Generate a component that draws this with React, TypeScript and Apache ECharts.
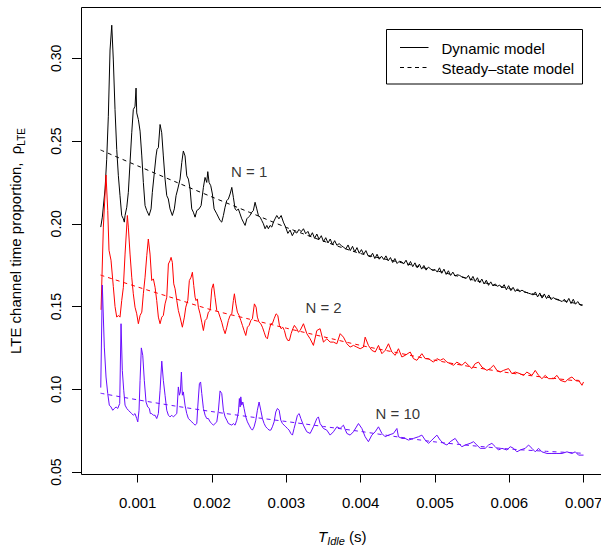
import React, { useEffect, useRef } from "react";
import * as echarts from "echarts";

const FONT = "'Liberation Sans', Arial, Helvetica, sans-serif";

// Axis ticks (seconds / proportion)
const X_TICKS = [0.001, 0.002, 0.003, 0.004, 0.005, 0.006, 0.007];
const Y_TICKS = [0.05, 0.1, 0.15, 0.2, 0.25, 0.3];
const X_MIN = 0.000244;
const X_MAX = 0.0072638;
const Y_MIN = 0.04849;
const Y_MAX = 0.3307;

// Steady-state model (T_idle in ms)
const STEADY_T_MS = [0.5, 1, 1.5, 2, 2.5, 3, 3.5, 4, 4.5, 5, 5.5, 6, 6.5, 7];
const STEADY_N1 = [0.2446, 0.235, 0.2255, 0.2162, 0.207, 0.1978, 0.1895, 0.182, 0.177, 0.1718, 0.1662, 0.1608, 0.1558, 0.1508];
const STEADY_N2 = [0.169, 0.1618, 0.1548, 0.1479, 0.1424, 0.1369, 0.1317, 0.1265, 0.122, 0.1175, 0.1135, 0.1099, 0.1071, 0.1046];
const STEADY_N10 = [0.0976, 0.0936, 0.0899, 0.0865, 0.0834, 0.0805, 0.0775, 0.0745, 0.0712, 0.0682, 0.0659, 0.0639, 0.0625, 0.0613];

// Dynamic model, N = 1 : [T_idle ms, proportion]
const DYN_N1_HEAD = [
  [0.503, 0.198], [0.524, 0.204], [0.561, 0.221], [0.583, 0.239], [0.605, 0.265], [0.628, 0.305], [0.651, 0.32],
  [0.672, 0.299], [0.695, 0.269], [0.718, 0.245], [0.74, 0.229], [0.762, 0.217], [0.785, 0.205], [0.807, 0.203],
  [0.82, 0.201], [0.83, 0.205], [0.853, 0.21], [0.874, 0.219], [0.897, 0.237], [0.92, 0.255], [0.941, 0.269],
  [0.964, 0.271], [0.978, 0.282], [0.987, 0.267], [1.009, 0.263], [1.032, 0.256], [1.055, 0.241], [1.076, 0.225],
  [1.099, 0.211], [1.122, 0.208], [1.153, 0.205], [1.18, 0.209], [1.197, 0.219], [1.224, 0.231], [1.247, 0.241],
  [1.26, 0.245], [1.278, 0.246], [1.301, 0.26], [1.323, 0.255], [1.345, 0.241], [1.368, 0.227], [1.391, 0.217],
  [1.412, 0.215], [1.435, 0.209], [1.466, 0.205], [1.493, 0.209], [1.516, 0.217], [1.539, 0.221], [1.57, 0.227],
  [1.593, 0.237], [1.614, 0.244], [1.637, 0.241], [1.66, 0.229], [1.682, 0.227], [1.705, 0.221], [1.727, 0.209],
  [1.749, 0.207], [1.772, 0.204], [1.795, 0.208], [1.826, 0.209], [1.853, 0.211], [1.884, 0.222], [1.906, 0.228],
  [1.929, 0.225], [1.943, 0.2315], [1.96, 0.225], [1.983, 0.223], [2.005, 0.218], [2.028, 0.209], [2.064, 0.206],
  [2.108, 0.202], [2.131, 0.201], [2.153, 0.205], [2.175, 0.21], [2.198, 0.214], [2.22, 0.215], [2.243, 0.218],
  [2.266, 0.222], [2.287, 0.216], [2.31, 0.209], [2.333, 0.208], [2.354, 0.209], [2.377, 0.206], [2.4, 0.203],
  [2.422, 0.201], [2.445, 0.199], [2.468, 0.203], [2.489, 0.204], [2.512, 0.205], [2.535, 0.207], [2.556, 0.208],
  [2.579, 0.213], [2.602, 0.209], [2.624, 0.205], [2.647, 0.204], [2.669, 0.202], [2.691, 0.2], [2.714, 0.197],
  [2.737, 0.199], [2.758, 0.197], [2.781, 0.199], [2.804, 0.198], [2.826, 0.201], [2.848, 0.203], [2.871, 0.205],
];
const DYN_N1_TAIL_START_MS = 2.9;
const DYN_N1_TAIL_STEP_MS = 0.03;
const DYN_N1_TAIL = [
  0.203, 0.205, 0.201, 0.198, 0.1942, 0.1962, 0.1928, 0.1954, 0.1944, 0.1966,
  0.1952, 0.197, 0.194, 0.1954, 0.1922, 0.1946, 0.1912, 0.1938, 0.1906, 0.1928,
  0.1892, 0.1916, 0.1884, 0.1908, 0.1874, 0.1898, 0.187, 0.188, 0.1868, 0.1858,
  0.1848, 0.1872, 0.1838, 0.1864, 0.183, 0.1856, 0.1822, 0.1844, 0.1816, 0.1838,
  0.1806, 0.18, 0.1822, 0.179, 0.1816, 0.1786, 0.1804, 0.1784, 0.1806, 0.1776,
  0.1796, 0.1766, 0.179, 0.176, 0.1774, 0.177, 0.1758, 0.178, 0.1748, 0.1772,
  0.1741, 0.1764, 0.1734, 0.1756, 0.1726, 0.1748, 0.172, 0.1738, 0.1728, 0.1718,
  0.1724, 0.1708, 0.1734, 0.1701, 0.1726, 0.1694, 0.1716, 0.1688, 0.1708, 0.1684,
  0.1692, 0.1688, 0.168, 0.1676, 0.167, 0.1688, 0.1658, 0.1682, 0.1651, 0.1674,
  0.1644, 0.1666, 0.1636, 0.1659, 0.1628, 0.1649, 0.1624, 0.1637, 0.1622, 0.163,
  0.1612, 0.1632, 0.1601, 0.1626, 0.1596, 0.1616, 0.1591, 0.1607, 0.159, 0.1599,
  0.159, 0.1585, 0.158, 0.1576, 0.157, 0.1588, 0.1558, 0.1582, 0.1551, 0.1576,
  0.1548, 0.157, 0.1542, 0.1554, 0.1546, 0.154, 0.1536, 0.153, 0.1544, 0.1524,
  0.1549, 0.1518, 0.1544, 0.1514, 0.153, 0.151, 0.1506,
];

// Dynamic model, N = 2
const DYN_N2 = [
  [0.507, 0.148], [0.538, 0.198], [0.574, 0.2295], [0.597, 0.208], [0.614, 0.184], [0.641, 0.178], [0.672, 0.162],
  [0.695, 0.15], [0.718, 0.1436], [0.74, 0.1446], [0.762, 0.1436], [0.785, 0.1536], [0.807, 0.1616], [0.83, 0.1817],
  [0.861, 0.205], [0.874, 0.198], [0.897, 0.1817], [0.92, 0.1677], [0.941, 0.1577], [0.964, 0.1496], [0.987, 0.1456],
  [1.009, 0.1396], [1.032, 0.1446], [1.055, 0.1466], [1.076, 0.1577], [1.099, 0.1677], [1.122, 0.1807], [1.143, 0.1908],
  [1.166, 0.1817], [1.189, 0.1657], [1.211, 0.1667], [1.234, 0.1616], [1.256, 0.1536], [1.278, 0.1436], [1.301, 0.1396],
  [1.324, 0.1436], [1.345, 0.1446], [1.368, 0.1516], [1.391, 0.1556], [1.413, 0.1757], [1.435, 0.1777], [1.449, 0.1797],
  [1.466, 0.1767], [1.485, 0.1637], [1.503, 0.1607], [1.526, 0.1536], [1.547, 0.1476], [1.57, 0.1436], [1.601, 0.1375],
  [1.628, 0.1436], [1.647, 0.1496], [1.674, 0.1536], [1.695, 0.1657], [1.718, 0.1677], [1.736, 0.1707], [1.754, 0.1627],
  [1.772, 0.1556], [1.785, 0.1536], [1.803, 0.1546], [1.816, 0.1496], [1.839, 0.1456], [1.862, 0.1405], [1.884, 0.1355],
  [1.907, 0.1416], [1.929, 0.1426], [1.951, 0.1466], [1.974, 0.1476], [1.997, 0.1607], [2.018, 0.1637], [2.041, 0.1556],
  [2.064, 0.1476], [2.086, 0.1466], [2.108, 0.1436], [2.131, 0.1405], [2.153, 0.1366], [2.176, 0.1336], [2.199, 0.1375],
  [2.22, 0.1416], [2.243, 0.1446], [2.266, 0.1456], [2.287, 0.1536], [2.301, 0.1577], [2.32, 0.1516], [2.341, 0.1466],
  [2.364, 0.1446], [2.387, 0.1416], [2.409, 0.1386], [2.431, 0.1355], [2.454, 0.1325], [2.476, 0.1375], [2.499, 0.1386],
  [2.522, 0.1416], [2.543, 0.1426], [2.57, 0.1516], [2.593, 0.1496], [2.61, 0.1436], [2.633, 0.1405], [2.656, 0.1396],
  [2.678, 0.1375], [2.701, 0.1345], [2.723, 0.1315], [2.745, 0.1305], [2.768, 0.1355], [2.791, 0.1396], [2.812, 0.1396],
  [2.835, 0.1426], [2.862, 0.1456], [2.885, 0.1446], [2.907, 0.1386], [2.929, 0.1366], [2.952, 0.1375], [2.974, 0.1355],
  [2.996, 0.1315], [3.019, 0.1295], [3.041, 0.1295], [3.064, 0.1336], [3.087, 0.1366], [3.108, 0.1386], [3.14, 0.1366],
  [3.162, 0.1345], [3.185, 0.1355], [3.23, 0.1396], [3.275, 0.1336], [3.32, 0.1305], [3.364, 0.1265], [3.41, 0.1355],
  [3.454, 0.1366], [3.499, 0.1285], [3.545, 0.1305], [3.589, 0.1285], [3.633, 0.1285], [3.679, 0.1275], [3.724, 0.1336],
  [3.768, 0.1315], [3.814, 0.1275], [3.858, 0.1255], [3.903, 0.1265], [3.948, 0.1255], [3.993, 0.1245], [4.037, 0.1255],
  [4.06, 0.1315], [4.104, 0.1265], [4.15, 0.1235], [4.195, 0.1225], [4.239, 0.1265], [4.285, 0.1215], [4.329, 0.1235],
  [4.374, 0.1275], [4.419, 0.1225], [4.464, 0.1205], [4.508, 0.1245], [4.554, 0.1195], [4.598, 0.1205], [4.666, 0.1225],
  [4.71, 0.1185], [4.756, 0.1175], [4.823, 0.1215], [4.868, 0.1185], [4.912, 0.1185], [4.979, 0.1164], [5.025, 0.1185],
  [5.07, 0.1175], [5.114, 0.1185], [5.16, 0.1164], [5.204, 0.1155], [5.249, 0.1145], [5.294, 0.1164], [5.362, 0.1145],
  [5.406, 0.1164], [5.45, 0.1145], [5.496, 0.1125], [5.541, 0.1155], [5.585, 0.1164], [5.631, 0.1134], [5.698, 0.1114],
  [5.742, 0.1125], [5.787, 0.1145], [5.833, 0.1114], [5.877, 0.1104], [5.921, 0.1114], [5.989, 0.1125], [6.035, 0.1094],
  [6.079, 0.1104], [6.146, 0.1094], [6.191, 0.1084], [6.236, 0.1104], [6.304, 0.1084], [6.348, 0.1114], [6.393, 0.1084],
  [6.438, 0.1064], [6.483, 0.1084], [6.527, 0.1064], [6.594, 0.1064], [6.64, 0.1084], [6.685, 0.1054], [6.752, 0.1044],
  [6.796, 0.1064], [6.842, 0.1074], [6.887, 0.1054], [6.931, 0.1054], [6.977, 0.1024], [6.998, 0.1044],
];

// Dynamic model, N = 10
const DYN_N10 = [
  [0.503, 0.101], [0.524, 0.163], [0.551, 0.1255], [0.574, 0.1074], [0.597, 0.0974], [0.618, 0.0904], [0.641, 0.0893],
  [0.664, 0.0873], [0.686, 0.0884], [0.709, 0.0893], [0.732, 0.0884], [0.758, 0.0914], [0.776, 0.1396], [0.793, 0.1114],
  [0.812, 0.0994], [0.83, 0.0904], [0.853, 0.0884], [0.874, 0.0873], [0.897, 0.0863], [0.92, 0.0853], [0.941, 0.0843],
  [0.964, 0.0853], [0.987, 0.0823], [1.001, 0.0803], [1.018, 0.0873], [1.032, 0.1054], [1.049, 0.125], [1.068, 0.1205],
  [1.089, 0.1054], [1.112, 0.0923], [1.135, 0.0893], [1.157, 0.0884], [1.17, 0.0853], [1.189, 0.0853], [1.211, 0.0843],
  [1.234, 0.0843], [1.256, 0.0823], [1.278, 0.0853], [1.301, 0.0994], [1.324, 0.117], [1.345, 0.1054], [1.368, 0.0964],
  [1.391, 0.0873], [1.413, 0.0843], [1.435, 0.0833], [1.458, 0.0843], [1.48, 0.0833], [1.503, 0.0843], [1.526, 0.0853],
  [1.547, 0.1014], [1.561, 0.0964], [1.574, 0.0984], [1.588, 0.1104], [1.601, 0.0964], [1.614, 0.0984], [1.637, 0.0904],
  [1.66, 0.0853], [1.682, 0.0823], [1.705, 0.0813], [1.728, 0.0803], [1.749, 0.0793], [1.772, 0.0783], [1.795, 0.0793],
  [1.808, 0.0893], [1.83, 0.1034], [1.846, 0.1044], [1.862, 0.0974], [1.884, 0.0884], [1.907, 0.0843], [1.929, 0.0823],
  [1.951, 0.0823], [1.974, 0.0803], [1.997, 0.0793], [2.018, 0.0783], [2.041, 0.0793], [2.064, 0.0803], [2.086, 0.0873],
  [2.108, 0.099], [2.131, 0.0974], [2.153, 0.0873], [2.176, 0.0833], [2.199, 0.0813], [2.22, 0.0793], [2.243, 0.0788],
  [2.266, 0.0783], [2.287, 0.0793], [2.31, 0.0783], [2.333, 0.0813], [2.355, 0.0863], [2.368, 0.0944], [2.378, 0.0893],
  [2.387, 0.0954], [2.4, 0.0904], [2.414, 0.0923], [2.431, 0.0884], [2.454, 0.0833], [2.476, 0.0803], [2.499, 0.0783],
  [2.522, 0.0763], [2.543, 0.0753], [2.566, 0.0773], [2.589, 0.0813], [2.61, 0.0873], [2.633, 0.0923], [2.656, 0.0873],
  [2.678, 0.0823], [2.701, 0.0793], [2.723, 0.0773], [2.745, 0.0763], [2.768, 0.0753], [2.791, 0.0753], [2.812, 0.0773],
  [2.835, 0.0803], [2.858, 0.0863], [2.88, 0.0884], [2.903, 0.0873], [2.925, 0.0813], [2.947, 0.0793], [2.97, 0.0783],
  [2.993, 0.0773], [3.014, 0.0763], [3.037, 0.0753], [3.06, 0.0733], [3.082, 0.0723], [3.104, 0.0763], [3.127, 0.0803],
  [3.149, 0.0843], [3.172, 0.0853], [3.195, 0.0823], [3.229, 0.0783], [3.275, 0.0743], [3.32, 0.0733], [3.364, 0.0773],
  [3.41, 0.0823], [3.431, 0.0833], [3.454, 0.0793], [3.499, 0.0763], [3.544, 0.0753], [3.589, 0.0723], [3.633, 0.0743],
  [3.679, 0.0773], [3.723, 0.0763], [3.768, 0.0783], [3.814, 0.0733], [3.858, 0.0723], [3.902, 0.0743], [3.97, 0.0793],
  [4.016, 0.0763], [4.06, 0.0713], [4.104, 0.0683], [4.15, 0.0723], [4.195, 0.0743], [4.239, 0.0773], [4.285, 0.0733],
  [4.329, 0.0713], [4.374, 0.0723], [4.441, 0.0733], [4.487, 0.0763], [4.508, 0.0713], [4.554, 0.0703], [4.598, 0.0703],
  [4.643, 0.0693], [4.71, 0.0703], [4.777, 0.0713], [4.823, 0.0723], [4.868, 0.0693], [4.912, 0.0673], [4.958, 0.0693],
  [5.025, 0.0723], [5.069, 0.0693], [5.114, 0.0673], [5.16, 0.0663], [5.204, 0.0683], [5.271, 0.0703], [5.316, 0.0673],
  [5.362, 0.0653], [5.406, 0.0663], [5.473, 0.0673], [5.518, 0.0683], [5.563, 0.0663], [5.608, 0.0643], [5.675, 0.0643],
  [5.72, 0.0663], [5.765, 0.0673], [5.81, 0.0653], [5.854, 0.0633], [5.9, 0.0643], [5.967, 0.0633], [6.012, 0.0653],
  [6.056, 0.0643], [6.102, 0.0622], [6.146, 0.0633], [6.214, 0.0643], [6.258, 0.0663], [6.304, 0.0643], [6.348, 0.0622],
  [6.393, 0.0643], [6.438, 0.0622], [6.506, 0.0612], [6.573, 0.0612], [6.64, 0.0612], [6.708, 0.0612], [6.775, 0.0622],
  [6.842, 0.0612], [6.887, 0.0622], [6.931, 0.0602], [6.998, 0.0602],
];

// In-plot annotations
const NOTE_T = [0.0025, 0.0035, 0.0045];
const NOTE_V = [0.2315, 0.1495, 0.0851];
const NOTE_TEXT = ["N = 1", "N = 2", "N = 10"];

const COLORS = ["#000000", "#FF0000", "#6A0DFF"];
const LEGEND_TEXT = ["Dynamic model", "Steady\u2013state model"];

export default function App() {
  const ref = useRef<HTMLDivElement>(null);

  useEffect(() => {
    if (!ref.current) return;
    const chart = echarts.init(ref.current, null, { renderer: "svg" });

    const msToS = (p: number[]) => [p[0] / 1000, p[1]];
    const n1 = [
      ...DYN_N1_HEAD.map(msToS),
      ...DYN_N1_TAIL.map((v, i) => [(DYN_N1_TAIL_START_MS + i * DYN_N1_TAIL_STEP_MS) / 1000, v]),
    ];
    const n2 = DYN_N2.map(msToS);
    const n10 = DYN_N10.map(msToS);
    const steady = (vals: number[]) => STEADY_T_MS.map((t, i) => [t / 1000, vals[i]]);

    const dyn = (name: string, data: number[][], color: string) => ({
      type: "line",
      name,
      data,
      symbol: "none",
      silent: true,
      lineStyle: { color, width: 1 },
      z: 3,
    });
    const ss = (name: string, data: number[][], color: string) => ({
      type: "line",
      name,
      data,
      symbol: "none",
      smooth: 0.3,
      silent: true,
      lineStyle: { color, width: 1, type: [4, 4] },
      z: 4,
    });

    const axisFont = { color: "#000", fontFamily: FONT };

    chart.setOption({
      animation: false,
      grid: {
        left: 81.5,
        top: 7.5,
        width: 521.8,
        height: 467,
        show: true,
        borderColor: "#000",
        borderWidth: 1,
        backgroundColor: "transparent",
        containLabel: false,
        outerBoundsMode: "none",
      },
      xAxis: {
        type: "value",
        min: X_MIN,
        max: X_MAX,
        axisLine: { show: false },
        splitLine: { show: false },
        axisTick: { show: true, customValues: X_TICKS, length: 8, lineStyle: { color: "#000", width: 1 } },
        axisLabel: {
          ...axisFont,
          customValues: X_TICKS,
          fontSize: 15,
          margin: 20,
          formatter: (v: number) => v.toFixed(3),
        },
      },
      yAxis: {
        type: "value",
        min: Y_MIN,
        max: Y_MAX,
        axisLine: { show: false },
        splitLine: { show: false },
        axisTick: { show: true, customValues: Y_TICKS, length: 9.5, lineStyle: { color: "#000", width: 1 } },
        axisLabel: {
          ...axisFont,
          customValues: Y_TICKS,
          fontSize: 14,
          rotate: 90,
          margin: 18.5,
          formatter: (v: number) => v.toFixed(2),
        },
      },
      series: [
        dyn("N1 dynamic", n1, COLORS[0]),
        ss("N1 steady", steady(STEADY_N1), COLORS[0]),
        dyn("N2 dynamic", n2, COLORS[1]),
        ss("N2 steady", steady(STEADY_N2), COLORS[1]),
        dyn("N10 dynamic", n10, COLORS[2]),
        ss("N10 steady", steady(STEADY_N10), COLORS[2]),
        {
          type: "scatter",
          name: "notes",
          silent: true,
          symbolSize: 1,
          itemStyle: { color: "rgba(0,0,0,0)" },
          data: NOTE_T.map((t, i) => ({ value: [t, NOTE_V[i]], name: NOTE_TEXT[i] })),
          label: {
            show: true,
            position: "inside",
            formatter: "{b}",
            color: "#000",
            fontSize: 15,
            fontFamily: FONT,
          },
          z: 6,
        },
      ],
      graphic: [
        {
          type: "rect",
          shape: { x: 386.5, y: 29.5, width: 196, height: 54.5 },
          style: { fill: "#fff", stroke: "#000", lineWidth: 1 },
          z: 10,
        },
        {
          type: "line",
          shape: { x1: 400, y1: 47.5, x2: 428.5, y2: 47.5 },
          style: { stroke: "#000", lineWidth: 1 },
          z: 11,
        },
        {
          type: "line",
          shape: { x1: 400, y1: 67.5, x2: 428.5, y2: 67.5 },
          style: { stroke: "#000", lineWidth: 1, lineDash: [4, 3.5] },
          z: 11,
        },
        {
          type: "text",
          x: 441.5,
          y: 48,
          z: 11,
          style: { text: LEGEND_TEXT[0], fill: "#000", fontSize: 15, fontFamily: FONT, align: "left", verticalAlign: "middle" },
        },
        {
          type: "text",
          x: 441.5,
          y: 68,
          z: 11,
          style: { text: LEGEND_TEXT[1], fill: "#000", fontSize: 15, fontFamily: FONT, align: "left", verticalAlign: "middle" },
        },
        {
          type: "text",
          x: 342.3,
          y: 536,
          z: 11,
          style: {
            text: "{t|T}{s|Idle}{n| (s)}",
            align: "center",
            verticalAlign: "middle",
            rich: {
              t: { fontSize: 15, fontStyle: "italic", fontFamily: FONT, fill: "#000", lineHeight: 20, verticalAlign: "middle" },
              s: { fontSize: 11, fontStyle: "italic", fontFamily: FONT, fill: "#000", lineHeight: 11, verticalAlign: "bottom" },
              n: { fontSize: 15, fontFamily: FONT, fill: "#000", lineHeight: 20, verticalAlign: "middle" },
            },
          },
        },
        {
          type: "text",
          x: 15,
          y: 241,
          rotation: Math.PI / 2,
          z: 11,
          style: {
            text: "{a|LTE channel time proportion,  \u03c1}{b|LTE}",
            align: "center",
            verticalAlign: "middle",
            rich: {
              a: { fontSize: 15, fontFamily: FONT, fill: "#000", lineHeight: 22, verticalAlign: "middle" },
              b: { fontSize: 10, fontFamily: FONT, fill: "#000", lineHeight: 10, verticalAlign: "bottom" },
            },
          },
        },
      ],
    });

    return () => chart.dispose();
  }, []);

  return (
    <div
      ref={ref}
      style={{ position: "fixed", left: 0, top: 0, width: 601, height: 546, background: "#fff" }}
    />
  );
}
